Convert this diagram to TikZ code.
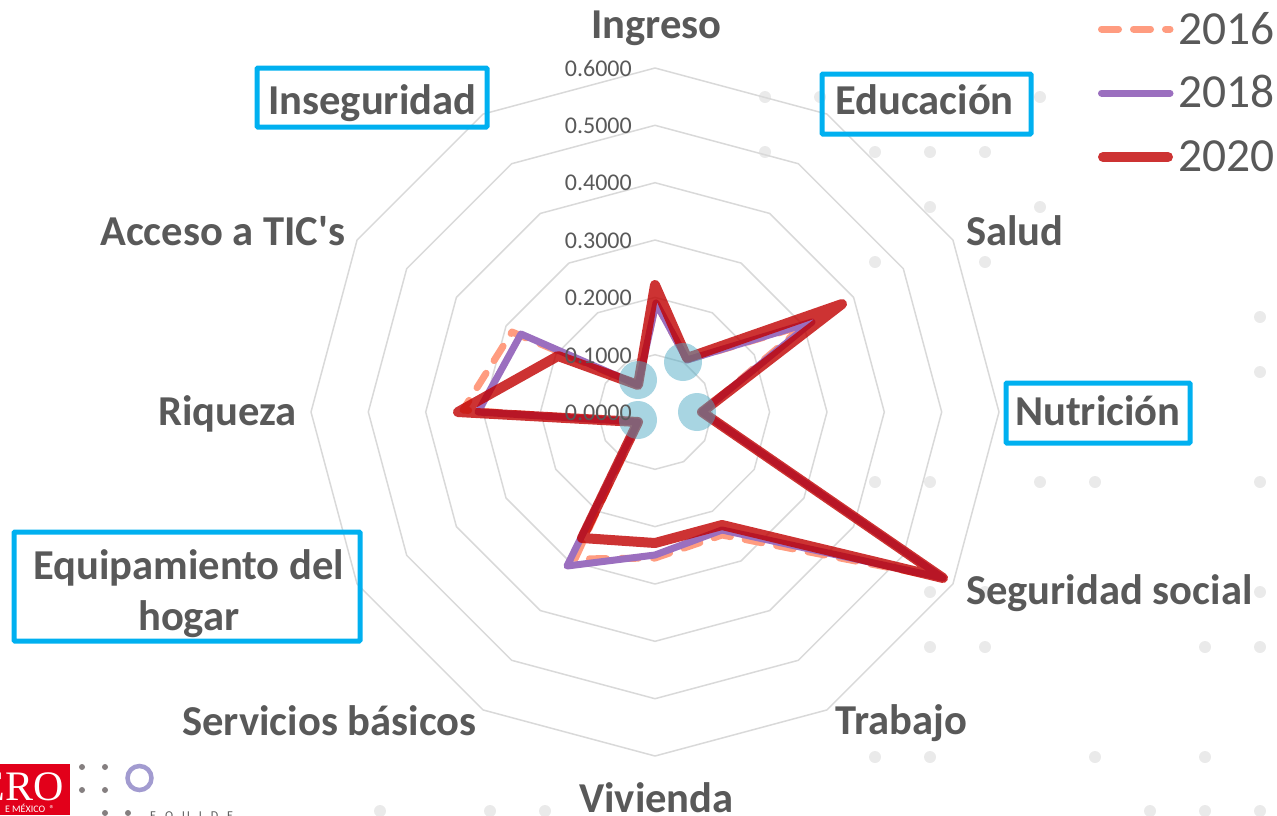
\documentclass[tikz,border=0pt]{standalone}
\usepackage{fontspec}
\setmainfont{Carlito}
\newfontfamily\nomap{Carlito}
\newfontfamily\logofont{Liberation Serif}
\definecolor{txt}{HTML}{595959}
\definecolor{gridc}{HTML}{D9D9D9}
\definecolor{boxc}{HTML}{00B0F0}
\definecolor{sa}{HTML}{FF9C80}
\definecolor{sb}{HTML}{9B6FBF}
\definecolor{sc}{HTML}{C00000}
\definecolor{blob}{HTML}{51ABC5}
\definecolor{wm}{HTML}{EAEAEA}
\definecolor{logored}{HTML}{E2001A}
\definecolor{ringc}{HTML}{A29BD0}
\definecolor{logodot}{HTML}{857F80}
\tikzset{
  lab/.style={anchor=base west,inner sep=0pt,text=txt,font=\fontsize{42.6}{42.6}\selectfont\bfseries},
  tick/.style={anchor=east,inner sep=0pt,text=txt,font=\fontsize{24}{24}\selectfont},
  leg/.style={anchor=base west,inner sep=0pt,text=txt,font=\fontsize{47.5}{47.5}\selectfont},
  hbox/.style={draw=boxc,line width=5pt,rounded corners=1pt},
  ring/.style={draw=gridc,line width=1.5pt,line join=round},
  s2016/.style={draw=sa,line width=7pt,line cap=round,line join=round,dash pattern=on 17pt off 15pt},
  s2018/.style={draw=sb,line width=7pt,line cap=round,line join=round},
  s2020/.style={draw=sc,draw opacity=.8,line width=10pt,line cap=round,line join=round},
  blobc/.style={fill=blob,fill opacity=.5,draw=none},
  wmdot/.style={fill=wm,draw=none},
  ldot/.style={fill=logodot,draw=none},
}
\begin{document}
\begin{tikzpicture}[x=1pt,y=-1pt]
\useasboundingbox (0,0) rectangle (1277,815);
\clip (0,0) rectangle (1277,815);
% faint background dots
\foreach \x/\y in {765/97,820/97,1040/97,765/152,875/152,930/152,985/152,930/207,1040/207,875/262,985/262,
  1260/317,1260/372,875/482,930/482,1040/482,1095/482,1260/482,930/592,985/592,1260/592,
  930/647,985/647,1205/647,1260/647,875/757,930/757,1095/757,1205/757,
  380/811,490/811,545/811,1150/811,1205/811,1260/811}
  {\fill[wmdot] (\x,\y) circle (6pt);}
% grid
\coordinate (c) at (655,412);
\foreach \r in {57.3,114.6,172,229.3,286.7,344}{
  \draw[ring] (655,412-\r)
    \foreach \a in {30,60,...,330}{ -- ({655+\r*sin(\a)},{412-\r*cos(\a)}) } -- cycle;
}
% series
\draw[s2016] (656,303) -- (687,360) -- (805,325) -- (702,412) -- (943,578) -- (722,535) -- (655,558) -- (575,559) -- (638,422) -- (463,410) -- (512,332) -- (638,385) -- cycle;
\draw[s2018] (656,303) -- (687,360) -- (812,322) -- (702,412) -- (943,578) -- (722,530) -- (655,555) -- (567,566) -- (638,422) -- (478,412) -- (521,334) -- (638,385) -- cycle;
\draw[s2020] (655,285) -- (687,358) -- (842,304) -- (702,412) -- (943,578) -- (722,525) -- (655,543) -- (582,538) -- (638,422) -- (458,412) -- (558,356) -- (638,385) -- cycle;
% highlight circles
\fill[blobc] (638,380) circle (19pt);
\fill[blobc] (683,362) circle (19pt);
\fill[blobc] (697,412) circle (19pt);
\fill[blobc] (638,420) circle (19pt);
% ticks
\node[tick] (t6) at (632,68) {0.6000};
\node[tick] (t5) at (632,126) {0.5000};
\node[tick] (t4) at (632,183) {0.4000};
\node[tick] (t3) at (632,241) {0.3000};
\node[tick] (t2) at (632,298) {0.2000};
\node[tick] (t1) at (632,356) {0.1000};
\node[tick] (t0) at (632,413) {0.0000};
% highlight boxes
\draw[hbox] (257,68) rectangle (487,127);
\draw[hbox] (822,74) rectangle (1031,134);
\draw[hbox] (1006,383) rectangle (1190,443);
\draw[hbox] (14,532) rectangle (360,641);
% labels
\node[lab] (l1) at (591,38) {Ingreso};
\node[lab] (l2) at (835,114) {Educación};
\node[lab] (l3) at (966,245) {Salud};
\node[lab] (l4) at (1015,425) {Nutrición};
\node[lab] (l5) at (966,604) {Seguridad social};
\node[lab] (l6) at (835,734) {Trabajo};
\node[lab] (l7) at (579,812) {Vivienda};
\node[lab] (l8) at (182,735) {Servicios básicos};
\node[lab] (l9) at (33,579) {Equipamiento del};
\node[lab] (l9b) at (138,630) {hogar};
\node[lab] (l10) at (158,425) {Riqueza};
\node[lab] (l11) at (100,245) {Acceso a TIC{\nomap '}s};
\node[lab] (l12) at (268,114) {Inseguridad};
% legend
\draw[s2016] (1101.5,29) -- (1170,29);
\draw[s2018] (1101.5,93) -- (1170,93);
\draw[s2020] (1103,157) -- (1168,157);
\node[leg] (y1) at (1178,44) {2016};
\node[leg] (y2) at (1178,107) {2018};
\node[leg] (y3) at (1178,171) {2020};
% logo
\begin{scope}
\clip (0,764) rectangle (70,815);
\fill[logored] (0,764) rectangle (70,815);
\node[anchor=base east,inner sep=0pt,text=white,font=\logofont\fontsize{42}{42}\selectfont] (ero) at (64,800) {ERO};
\node[anchor=base east,inner sep=0pt,text=white,font=\fontsize{10}{10}\selectfont] (mex) at (55,812) {E MÉXICO \ \textregistered};
\end{scope}
\foreach \x/\y in {82/767,105/767,82/790,105/790,105/813,128/813}{\fill[ldot] (\x,\y) circle (3pt);}
\draw[draw=ringc,line width=4.5pt] (139.5,778) circle (12pt);
\node[anchor=base west,inner sep=0pt,text=txt,font=\fontsize{12}{12}\selectfont] (eq) at (150,819) {E\hspace{9pt}Q\hspace{9pt}U\hspace{9pt}I\hspace{9pt}D\hspace{9pt}E};
\end{tikzpicture}
\end{document}
